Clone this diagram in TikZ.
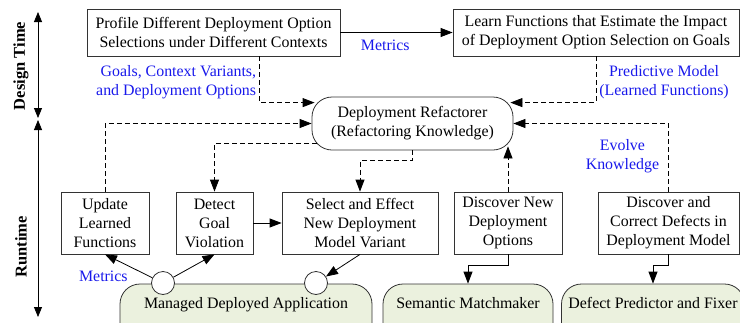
\documentclass[tikz,border=0pt]{standalone}
\usepackage{fontspec}
\setmainfont{Liberation Serif}
\usetikzlibrary{arrows.meta,calc}

\definecolor{label blue}{RGB}{25,25,235}
\definecolor{app green}{RGB}{235,241,222}

\begin{document}
\begin{tikzpicture}[%
      x=1pt, y=-1pt,
      every node/.style={font={\fontsize{15.9}{19}\selectfont}, align=center,
                         inner sep=3pt},
      task/.style={draw=black!80, line width=0.8pt, fill=white},
      knowledge/.style={task, rounded corners=20pt},
      app/.style={draw=black!80, line width=0.8pt, fill=app green,
                  rounded corners=20pt, minimum height=60pt, text depth=23pt},
      port/.style={circle, draw=black!80, line width=0.8pt, fill=white,
                   minimum size=23pt, inner sep=0pt},
      note/.style={text=label blue},
      phase/.style={rotate=90, font={\fontsize{16.5}{19}\selectfont\bfseries}},
      axis/.style={line width=0.8pt,
                   {Triangle[length=10pt,width=8pt]}-{Triangle[length=10pt,width=8pt]}},
      flow/.style={line width=0.8pt, -{Triangle[length=12pt,width=9pt]}},
      refine/.style={flow, dash pattern=on 5pt off 3pt}
    ]
    \useasboundingbox (0,0) rectangle (740,322);
    \clip (0,0) rectangle (740,322);

    \coordinate (design top) at (38,12);
    \coordinate (design bottom) at (38,118);
    \coordinate (run top) at (38,120);
    \coordinate (run bottom) at (38,317);
    \draw[axis] (design top) -- (design bottom);
    \draw[axis] (run top) -- (run bottom);
    \node[phase] (design label) at (21,66) {Design Time};
    \node[phase] (run label) at (21,247) {Runtime};

    \node[task, minimum width=253pt, minimum height=47pt] (profile) at (213.5,32.5)
     {Profile Different Deployment Option\\Selections under Different Contexts};
    \node[task, minimum width=286pt, minimum height=47pt] (learn) at (596,32.5)
     {Learn Functions that Estimate the Impact\\of Deployment Option Selection on Goals};
    \node[knowledge, minimum width=201pt, minimum height=53pt] (refactorer) at (412.5,123.5)
     {Deployment Refactorer\\(Refactoring Knowledge)};

    \node[task, minimum width=88pt, minimum height=62pt] (update) at (105,223)
     {Update\\Learned\\Functions};
    \node[task, minimum width=77pt, minimum height=62pt] (detect) at (214.5,223)
     {Detect\\Goal\\Violation};
    \node[task, minimum width=156pt, minimum height=62pt] (select) at (360,223)
     {Select and Effect\\New Deployment\\Model Variant};
    \node[task, minimum width=108pt, minimum height=62pt] (discover) at (508,223)
     {Discover New\\Deployment\\Options};
    \node[task, minimum width=141pt, minimum height=62pt] (correct) at (668.5,223)
     {Discover and\\Correct Defects in\\Deployment Model};

    \node[app, minimum width=252pt] (managed) at (246,314) {Managed Deployed Application};
    \node[app, minimum width=170pt] (matchmaker) at (468,314) {Semantic Matchmaker};
    \node[app, minimum width=183pt] (defect) at (653,314) {Defect Predictor and Fixer};
    \node[port] (sensor) at (163,283) {};
    \node[port] (effector) at (316,283) {};

    \draw[flow] (profile) -- node[note, below=4pt, pos=0.4] {Metrics} (learn);
    \draw[refine] ([xshift=46pt]profile.south) |-
     node[note, left, pos=0.28, align=right] {Goals, Context Variants,\\and Deployment Options}
     ([xshift=3pt,yshift=-6pt]refactorer.north west);
    \draw[refine] (learn.south) |-
     node[note, right, pos=0.28] {Predictive Model\\(Learned Functions)}
     ([xshift=-3pt,yshift=-6pt]refactorer.north east);
    \draw[refine] (update.north) |- (refactorer.west);
    \draw[refine] ([xshift=5pt,yshift=7pt]refactorer.south west) -| (detect.north);
    \draw[refine] (refactorer.south) -- ++(0,10) -| (select.north);
    \draw[refine] (discover.north) -- ($(discover.north |- refactorer.south)+(0,-4)$);
    \draw[refine] (correct.north) |-
     node[note, left=6pt, pos=0.26] {Evolve\\Knowledge} (refactorer.east);

    \draw[flow] (detect) -- (select);
    \draw[flow] (sensor) -- node[note, anchor=north east, pos=0.45] {Metrics} (update.south);
    \draw[flow] (sensor) -- (detect.south);
    \draw[flow] (select.south) -- (effector);
    \draw[flow] (discover.south) -- ++(0,11) -| (matchmaker.north);
    \draw[flow] (correct.south) -- ++(0,11) -| (defect.north);
\end{tikzpicture}
\end{document}
